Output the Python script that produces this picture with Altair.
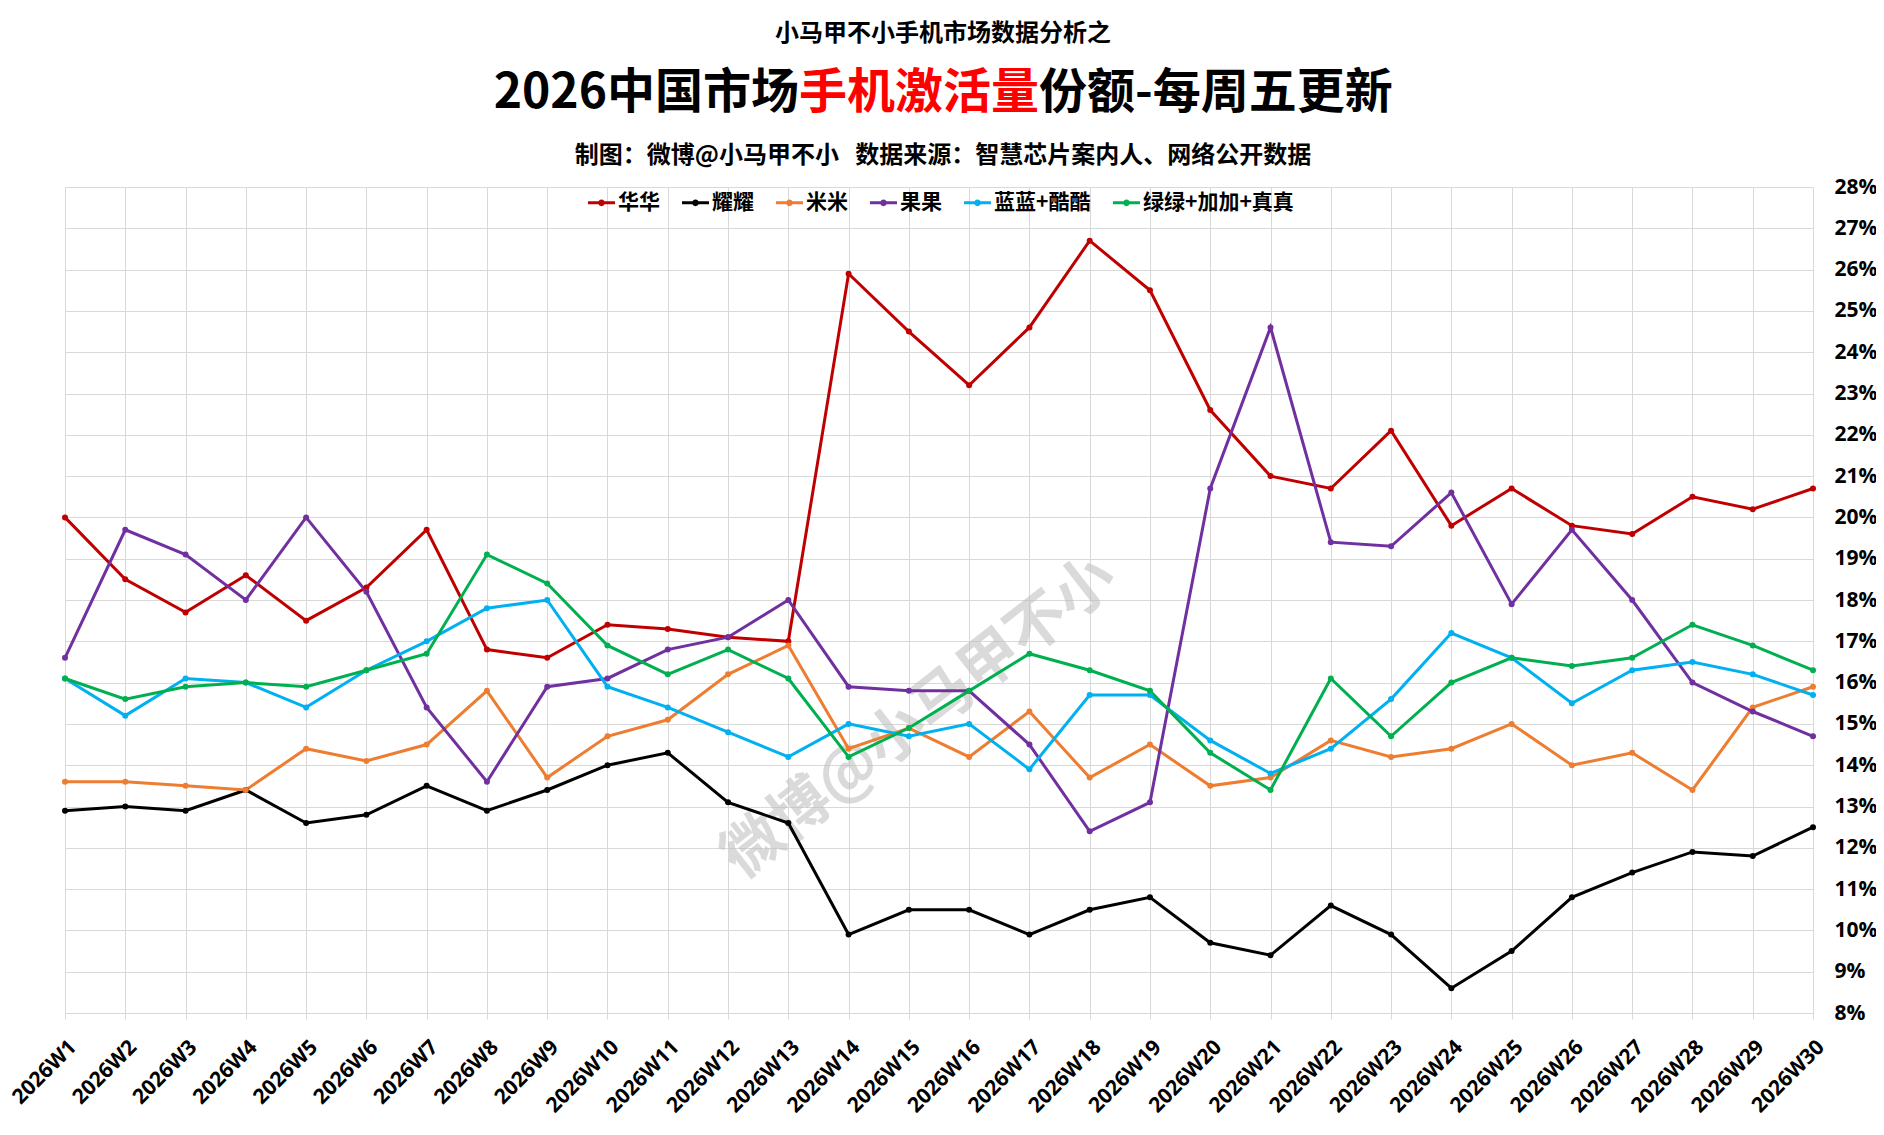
import altair as alt
import pandas as pd

weeks = [f"2026W{i}" for i in range(1, 31)]

brands = ["华华", "耀耀", "米米", "果果", "蓝蓝+酷酷", "绿绿+加加+真真"]
colors = ["#C00000", "#000000", "#ED7D31", "#7030A0", "#00B0F0", "#00B050"]

huahua = [20.0, 18.5, 17.7, 18.6, 17.5, 18.3, 19.7, 16.8, 16.6, 17.4,
          17.3, 17.1, 17.0, 25.9, 24.5, 23.2, 24.6, 26.7, 25.5, 22.6,
          21.0, 20.7, 22.1, 19.8, 20.7, 19.8, 19.6, 20.5, 20.2, 20.7]
yaoyao = [12.9, 13.0, 12.9, 13.4, 12.6, 12.8, 13.5, 12.9, 13.4, 14.0,
          14.3, 13.1, 12.6, 9.9, 10.5, 10.5, 9.9, 10.5, 10.8, 9.7,
          9.4, 10.6, 9.9, 8.6, 9.5, 10.8, 11.4, 11.9, 11.8, 12.5]
mimi = [13.6, 13.6, 13.5, 13.4, 14.4, 14.1, 14.5, 15.8, 13.7, 14.7,
        15.1, 16.2, 16.9, 14.4, 14.9, 14.2, 15.3, 13.7, 14.5, 13.5,
        13.7, 14.6, 14.2, 14.4, 15.0, 14.0, 14.3, 13.4, 15.4, 15.9]
guoguo = [16.6, 19.7, 19.1, 18.0, 20.0, 18.2, 15.4, 13.6, 15.9, 16.1,
          16.8, 17.1, 18.0, 15.9, 15.8, 15.8, 14.5, 12.4, 13.1, 20.7,
          24.6, 19.4, 19.3, 20.6, 17.9, 19.7, 18.0, 16.0, 15.3, 14.7]
lanlan = [16.1, 15.2, 16.1, 16.0, 15.4, 16.3, 17.0, 17.8, 18.0, 15.9,
          15.4, 14.8, 14.2, 15.0, 14.7, 15.0, 13.9, 15.7, 15.7, 14.6,
          13.8, 14.4, 15.6, 17.2, 16.6, 15.5, 16.3, 16.5, 16.2, 15.7]
lvlv = [16.1, 15.6, 15.9, 16.0, 15.9, 16.3, 16.7, 19.1, 18.4, 16.9,
        16.2, 16.8, 16.1, 14.2, 14.9, 15.8, 16.7, 16.3, 15.8, 14.3,
        13.4, 16.1, 14.7, 16.0, 16.6, 16.4, 16.6, 17.4, 16.9, 16.3]

y_ticks = list(range(8, 29))

title_top = ["小马甲不小手机市场数据分析之"]
title_main_a = ["2026中国市场"]
title_main_b = ["手机激活量"]
title_main_c = ["份额-每周五更新"]
title_source = ["制图：微博@小马甲不小\u00a0\u00a0\u00a0数据来源：智慧芯片案内人、网络公开数据"]
watermark = ["微博@小马甲不小"]

series = [huahua, yaoyao, mimi, guoguo, lanlan, lvlv]
rows = []
for b, vals in zip(brands, series):
    for w, v in zip(weeks, vals):
        rows.append({"week": w, "brand": b, "share": v})
df = pd.DataFrame(rows)

W, H = 1748, 826
CJK = "Noto Sans CJK SC"
LAT = "Open Sans"

x_enc = alt.X("week:N", sort=weeks, title=None,
              scale=alt.Scale(type="point", padding=0),
              axis=alt.Axis(labelAngle=-45, labelAlign="right", labelBaseline="top",
                            labelPadding=17, labelFont=LAT, labelFontSize=21,
                            labelFontWeight="bold", labelColor="#000000",
                            ticks=True, tickSize=6, tickColor="#D9D9D9",
                            domain=False, grid=True,
                            gridColor="#D9D9D9", gridWidth=1))
y_enc = alt.Y("share:Q", title=None,
              scale=alt.Scale(domain=[8, 28], nice=False, zero=False),
              axis=alt.Axis(orient="right", values=y_ticks,
                            labelExpr="datum.value + '%'", labelFont=LAT,
                            labelFontSize=21, labelFontWeight="bold",
                            labelColor="#000000", labelPadding=21,
                            ticks=False, domain=False, grid=True,
                            gridColor="#D9D9D9", gridWidth=1))
color_scale = alt.Scale(domain=brands, range=colors)

legend_path = ("M-1,-0.11L1,-0.11L1,0.11L-1,0.11Z "
               "M0.25,0A0.25,0.25,0,1,1,-0.25,0A0.25,0.25,0,1,1,0.25,0Z")

legend = alt.Legend(title=None, orient="none", direction="horizontal",
                    legendX=523, legendY=2,
                    symbolType=legend_path, symbolSize=729,
                    symbolStrokeWidth=0, symbolOpacity=1,
                    labelFont=CJK, labelFontSize=21,
                    labelFontWeight="bold", labelColor="#000000",
                    labelOffset=3, columnPadding=22)

color_enc = alt.Color("brand:N", scale=color_scale, sort=brands, legend=legend)

lines = alt.Chart(df).mark_line(strokeWidth=3).encode(
    x=x_enc, y=y_enc, color=color_enc,
)
points = alt.Chart(df).mark_point(filled=True, size=36, opacity=1).encode(
    x=x_enc, y=y_enc, color=color_enc,
)


def text_layer(txt, x, y, size, color="#000000", align="center", angle=0, opacity=1.0, font=CJK):
    return alt.Chart(pd.DataFrame({"t": txt})).mark_text(
        font=font, fontSize=size, fontWeight="bold", color=color, align=align,
        baseline="middle", angle=angle, opacity=opacity,
    ).encode(text="t:N", x=alt.value(x), y=alt.value(y))


wm = text_layer(watermark, 855, 531, 60, color="#BDBDBD", angle=322, opacity=0.55)
t1 = text_layer(title_top, 878, -153, 24)
t2a = text_layer(title_main_a, 734, -93, 48, align="right")
t2b = text_layer(title_main_b, 734, -93, 48, color="#FF0000", align="left")
t2c = text_layer(title_main_c, 974, -93, 48, align="left")
t3 = text_layer(title_source, 878, -31, 24)

chart = alt.layer(wm, lines, points, t1, t2a, t2b, t2c, t3).properties(
    width=W, height=H,
    autosize=alt.AutoSizeParams(type="none"),
    padding={"left": 57, "top": 179, "right": 63, "bottom": 114},
    background="#FFFFFF",
).configure_view(stroke=None)

chart.save("out.html", embed_options={"renderer": "svg", "actions": False})
